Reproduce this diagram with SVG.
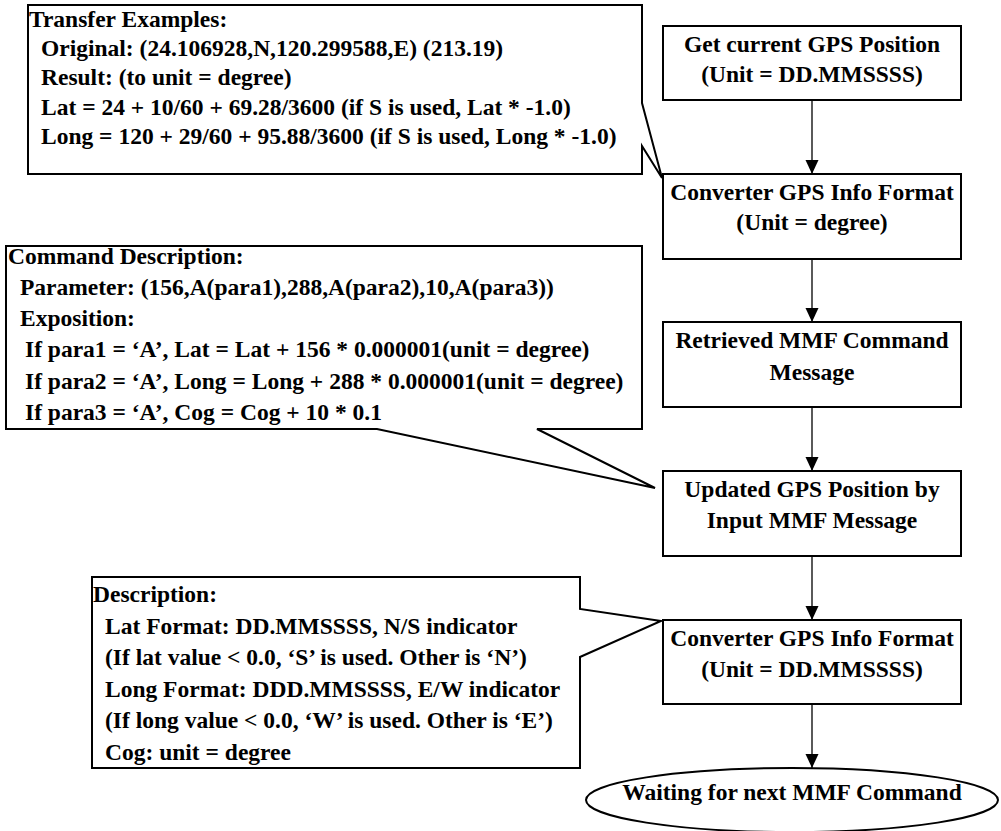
<svg xmlns="http://www.w3.org/2000/svg" width="1001" height="831" viewBox="0 0 1001 831">
<style>
  text { font-family: "Liberation Serif", "Times New Roman", serif; font-weight: bold; font-size: 23.5px; fill: #000; }
  .c { text-anchor: middle; }
  .box { fill: #fff; stroke: #000; stroke-width: 2; }
  .callout { fill: #fff; stroke: #000; stroke-width: 2; stroke-linejoin: miter; }
  .edge { stroke: #000; stroke-width: 1.3; fill: none; marker-end: url(#arrow); }
</style>
<defs>
  <marker id="arrow" viewBox="0 0 14 14" refX="14" refY="7" markerWidth="14" markerHeight="14" markerUnits="userSpaceOnUse" orient="auto">
    <path d="M0,0.5 L14,7 L0,13.5 Z" fill="#000"/>
  </marker>
</defs>
<rect width="1001" height="831" fill="#fff"/>

<g id="connectors">
  <line class="edge" x1="812" y1="100" x2="812" y2="174"/>
  <line class="edge" x1="812" y1="259" x2="812" y2="322"/>
  <line class="edge" x1="812" y1="407" x2="812" y2="471"/>
  <line class="edge" x1="812" y1="556" x2="812" y2="620"/>
  <line class="edge" x1="812" y1="704" x2="812" y2="768"/>
</g>

<g id="callout-transfer">
  <path class="callout" d="M28,5 H642 V103 L662,178 L642,146 V174 H28 Z"/>
  <text x="29" y="27">Transfer Examples:</text>
  <text x="41" y="56">Original: (24.106928,N,120.299588,E) (213.19)</text>
  <text x="41" y="85">Result: (to unit = degree)</text>
  <text x="41" y="115">Lat = 24 + 10/60 + 69.28/3600 (if S is used, Lat * -1.0)</text>
  <text x="41" y="144">Long = 120 + 29/60 + 95.88/3600 (if S is used, Long * -1.0)</text>
</g>

<g id="callout-command">
  <path class="callout" d="M6,246 H642 V429 H537 L655,488 L377,429 H6 Z"/>
  <text x="8" y="264">Command Description:</text>
  <text x="20" y="295">Parameter: (156,A(para1),288,A(para2),10,A(para3))</text>
  <text x="20" y="326">Exposition:</text>
  <text x="25" y="357">If para1 = ‘A’, Lat = Lat + 156 * 0.000001(unit = degree)</text>
  <text x="25" y="389">If para2 = ‘A’, Long = Long + 288 * 0.000001(unit = degree)</text>
  <text x="25" y="420">If para3 = ‘A’, Cog = Cog + 10 * 0.1</text>
</g>

<g id="callout-description">
  <path class="callout" d="M92,577 H580 V609 L661,621 L580,657 V768 H92 Z"/>
  <text x="93" y="602">Description:</text>
  <text x="105" y="634">Lat Format: DD.MMSSSS, N/S indicator</text>
  <text x="105" y="665">(If lat value &lt; 0.0, ‘S’ is used. Other is ‘N’)</text>
  <text x="105" y="697">Long Format: DDD.MMSSSS, E/W indicator</text>
  <text x="105" y="728">(If long value &lt; 0.0, ‘W’ is used. Other is ‘E’)</text>
  <text x="105" y="760">Cog: unit = degree</text>
</g>

<g id="node-get-gps">
  <rect class="box" x="663" y="26" width="298" height="74"/>
  <text class="c" x="812" y="52">Get current GPS Position</text>
  <text class="c" x="812" y="82">(Unit = DD.MMSSSS)</text>
</g>

<g id="node-convert-degree">
  <rect class="box" x="663" y="174" width="298" height="85"/>
  <text class="c" x="812" y="200">Converter GPS Info Format</text>
  <text class="c" x="812" y="230">(Unit = degree)</text>
</g>

<g id="node-retrieved">
  <rect class="box" x="663" y="322" width="298" height="85"/>
  <text class="c" x="812" y="348">Retrieved MMF Command</text>
  <text class="c" x="812" y="380">Message</text>
</g>

<g id="node-updated">
  <rect class="box" x="663" y="471" width="298" height="85"/>
  <text class="c" x="812" y="497">Updated GPS Position by</text>
  <text class="c" x="812" y="528">Input MMF Message</text>
</g>

<g id="node-convert-ddmm">
  <rect class="box" x="663" y="620" width="298" height="84"/>
  <text class="c" x="812" y="646">Converter GPS Info Format</text>
  <text class="c" x="812" y="677">(Unit = DD.MMSSSS)</text>
</g>

<g id="node-waiting">
  <ellipse class="box" cx="792" cy="800" rx="206" ry="32"/>
  <text class="c" x="792" y="800">Waiting for next MMF Command</text>
</g>
</svg>
